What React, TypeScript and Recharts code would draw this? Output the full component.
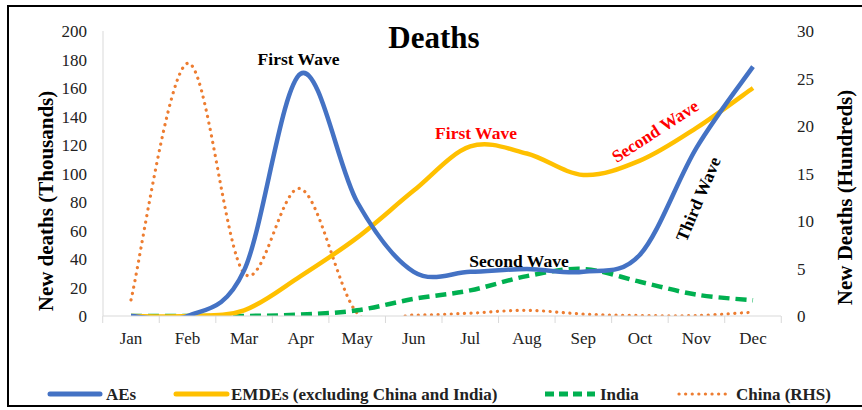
import React from 'react';
import { LineChart, Line, XAxis, YAxis } from 'recharts';

const months = ['Jan', 'Feb', 'Mar', 'Apr', 'May', 'Jun', 'Jul', 'Aug', 'Sep', 'Oct', 'Nov', 'Dec'];
const aes = [0, 0, 32, 170, 80, 31, 31, 33, 31, 43, 118, 175];
const emdes = [0, 0, 4, 28, 55, 88, 119, 114, 99, 109, 132, 160];
const india = [0, 0, 0, 1, 4, 12, 18, 28, 33, 24, 15, 11];
const china = [1.7, 26.6, 4.5, 13.4, 0.3, 0.1, 0.3, 0.6, 0.2, 0.05, 0.05, 0.4];

const leftTicks = [0, 20, 40, 60, 80, 100, 120, 140, 160, 180, 200];
const rightTicks = [0, 5, 10, 15, 20, 25, 30];

const data = months.map((m, i) => ({
  month: m,
  aes: aes[i],
  emdes: emdes[i],
  india: india[i],
  china: china[i],
}));

const W = 862;
const H = 410;
const PLOT_LEFT = 103;
const PLOT_RIGHT = 781;
const PLOT_TOP = 31;
const PLOT_BOTTOM = 316;
const LEFT_W = 60;
const RIGHT_W = 60;
const X_H = 30;
const PAD = 28;
const FONT = '"Liberation Serif", "Times New Roman", serif';

// Excel-like smoothed line (Catmull-Rom through every point)
const excelCurve: any = (context: any) => {
  let pts: number[][] = [];
  return {
    areaStart() {},
    areaEnd() {},
    lineStart() {
      pts = [];
    },
    lineEnd() {
      const n = pts.length;
      if (!n) return;
      context.moveTo(pts[0][0], pts[0][1]);
      for (let i = 0; i < n - 1; i++) {
        const p0 = pts[i - 1] || pts[i];
        const p1 = pts[i];
        const p2 = pts[i + 1];
        const p3 = pts[i + 2] || pts[i + 1];
        context.bezierCurveTo(
          p1[0] + (p2[0] - p0[0]) / 6,
          p1[1] + (p2[1] - p0[1]) / 6,
          p2[0] - (p3[0] - p1[0]) / 6,
          p2[1] - (p3[1] - p1[1]) / 6,
          p2[0],
          p2[1]
        );
      }
    },
    point(x: number, y: number) {
      pts.push([+x, +y]);
    },
  };
};

const XTick = (props: any) => {
  const { x, y, payload, index } = props;
  const step = (PLOT_RIGHT - PLOT_LEFT - 2 * PAD) / (months.length - 1);
  return (
    <g>
      <line x1={x - step / 2} x2={x - step / 2} y1={y} y2={y + 7} stroke="#D9D9D9" strokeWidth={1} />
      {index === months.length - 1 && (
        <line x1={x + step / 2} x2={x + step / 2} y1={y} y2={y + 7} stroke="#D9D9D9" strokeWidth={1} />
      )}
      <text x={x} y={y + 28} textAnchor="middle" fontFamily={FONT} fontSize={17} fill="#222">
        {payload.value}
      </text>
    </g>
  );
};

const tickStyle = { fontFamily: FONT, fontSize: 17, fill: '#222' };

const legendItems = [
  { label: 'AEs', color: '#4472C4', x1: 50, x2: 100, tx: 106, dash: undefined, w: 5, cap: 'round' },
  { label: 'EMDEs (excluding China and India)', color: '#FFC000', x1: 176, x2: 227, tx: 231, dash: undefined, w: 5, cap: 'round' },
  { label: 'India', color: '#00B050', x1: 545, x2: 595, tx: 600, dash: '9 5', w: 5, cap: 'butt' },
  { label: 'China (RHS)', color: '#ED7D31', x1: 679, x2: 727, tx: 736, dash: '0.1 6.5', w: 3.2, cap: 'round' },
];

export default function App() {
  return (
    <div style={{ position: 'absolute', left: 0, top: 0, width: W, height: H, background: '#fff', overflow: 'hidden' }}>
      <LineChart
        width={W}
        height={H}
        data={data}
        margin={{ top: PLOT_TOP, bottom: H - PLOT_BOTTOM - X_H, left: PLOT_LEFT - LEFT_W, right: W - PLOT_RIGHT - RIGHT_W }}
      >
        <XAxis
          dataKey="month"
          height={X_H}
          padding={{ left: PAD, right: PAD }}
          interval={0}
          tickLine={false}
          tickSize={0}
          tickMargin={0}
          axisLine={{ stroke: '#D9D9D9', strokeWidth: 1 }}
          tick={<XTick />}
        />
        <YAxis
          yAxisId="left"
          width={LEFT_W}
          domain={[0, 200]}
          ticks={leftTicks}
          interval={0}
          allowDataOverflow
          tickLine={false}
          tickSize={0}
          tickMargin={16}
          axisLine={{ stroke: '#D9D9D9', strokeWidth: 1 }}
          tick={tickStyle}
        />
        <YAxis
          yAxisId="right"
          orientation="right"
          width={RIGHT_W}
          domain={[0, 30]}
          ticks={rightTicks}
          interval={0}
          allowDataOverflow
          tickLine={false}
          tickSize={0}
          tickMargin={16}
          axisLine={false}
          tick={tickStyle}
        />
        <Line
          yAxisId="right"
          dataKey="china"
          type={excelCurve}
          stroke="#ED7D31"
          strokeWidth={3.2}
          strokeDasharray="0.1 6.5"
          strokeLinecap="round"
          dot={false}
          activeDot={false}
          isAnimationActive={false}
        />
        <Line
          yAxisId="left"
          dataKey="india"
          type={excelCurve}
          stroke="#00B050"
          strokeWidth={4.5}
          strokeDasharray="11 6"
          dot={false}
          activeDot={false}
          isAnimationActive={false}
        />
        <Line
          yAxisId="left"
          dataKey="emdes"
          type={excelCurve}
          stroke="#FFC000"
          strokeWidth={4.5}
          dot={false}
          activeDot={false}
          isAnimationActive={false}
        />
        <Line
          yAxisId="left"
          dataKey="aes"
          type={excelCurve}
          stroke="#4472C4"
          strokeWidth={4.5}
          dot={false}
          activeDot={false}
          isAnimationActive={false}
        />
      </LineChart>
      <svg
        width={W}
        height={H}
        style={{ position: 'absolute', left: 0, top: 0, pointerEvents: 'none' }}
        fontFamily={FONT}
      >
        <rect x={8} y={6} width={860} height={400} fill="none" stroke="#000" strokeWidth={2} />
        <text x={434} y={48} textAnchor="middle" fontSize={31} fontWeight="bold" fill="#000">
          Deaths
        </text>
        <text transform="translate(53,201) rotate(-90)" textAnchor="middle" fontSize={21} fontWeight="bold" fill="#000">
          New deaths (Thousands)
        </text>
        <text transform="translate(852,197.5) rotate(-90)" textAnchor="middle" fontSize={21} fontWeight="bold" fill="#000">
          New Deaths (Hundreds)
        </text>
        <text x={298.5} y={65} textAnchor="middle" fontSize={17.5} fontWeight="bold" fill="#000">
          First Wave
        </text>
        <text x={476} y={139} textAnchor="middle" fontSize={17.5} fontWeight="bold" fill="#FF0000">
          First Wave
        </text>
        <text x={519} y={267} textAnchor="middle" fontSize={17.5} fontWeight="bold" fill="#000">
          Second Wave
        </text>
        <text
          transform="translate(655,131) rotate(-33)"
          textAnchor="middle"
          dy="0.35em"
          fontSize={17.5}
          fontWeight="bold"
          fill="#FF0000"
        >
          Second Wave
        </text>
        <text
          transform="translate(698,199) rotate(-67)"
          textAnchor="middle"
          dy="0.35em"
          fontSize={17.5}
          fontWeight="bold"
          fill="#000"
        >
          Third Wave
        </text>
        {legendItems.map((it) => (
          <g key={it.label}>
            <line
              x1={it.x1}
              x2={it.x2}
              y1={394}
              y2={394}
              stroke={it.color}
              strokeWidth={it.w}
              strokeDasharray={it.dash}
              strokeLinecap={it.cap as any}
            />
            <text x={it.tx} y={400} fontSize={17} fontWeight="bold" fill="#222">
              {it.label}
            </text>
          </g>
        ))}
      </svg>
    </div>
  );
}
